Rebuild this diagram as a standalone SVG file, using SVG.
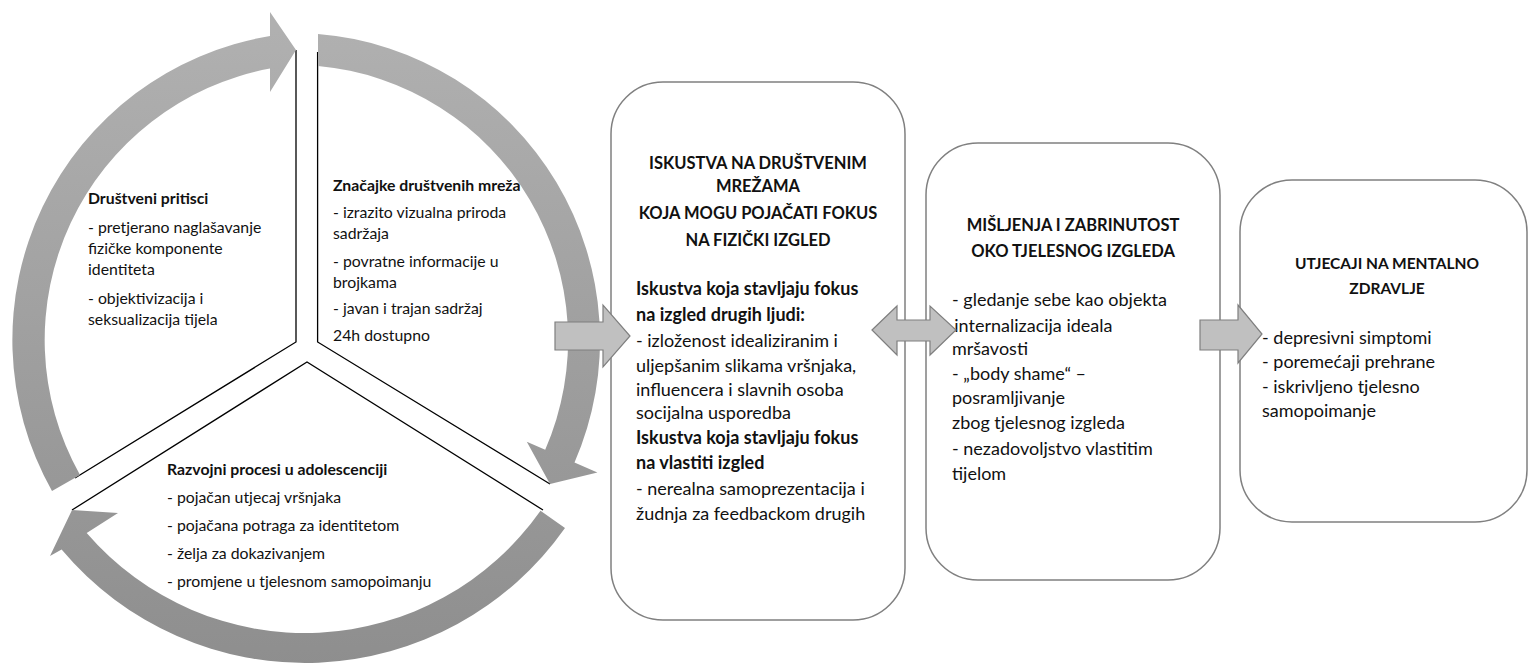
<svg xmlns="http://www.w3.org/2000/svg" width="1528" height="667" viewBox="0 0 1528 667">
<style>
.t{font-family:Lato,"Liberation Sans",sans-serif;fill:#111}
.c{font-size:15.8px}
.m{font-size:18px}
.h{font-size:16.5px}
.s{font-size:15.5px}
.b{font-weight:bold}
.mid{text-anchor:middle}
.box{fill:#fff;stroke:#808080;stroke-width:1.5}
.arc{fill:url(#g)}
.blk{fill:#c0c0c0;stroke:#7f7f7f;stroke-width:1.2;stroke-linejoin:miter}
.seg{fill:none;stroke:#000;stroke-width:1.3}
</style>
<defs>
<linearGradient id="g" gradientUnits="userSpaceOnUse" x1="0" y1="30" x2="0" y2="667">
<stop offset="0" stop-color="#b0b0b0"/>
<stop offset="1" stop-color="#8e8e8e"/>
</linearGradient>
</defs>
<rect width="1528" height="667" fill="#fff"/>

<g id="seg-left">
<path class="seg" d="M296,50 L296,342 L75,478"/>
<text class="t c b" x="88" y="204">Društveni pritisci</text>
<text class="t c" x="88" y="233">- pretjerano naglašavanje</text>
<text class="t c" x="88" y="254">fizičke komponente</text>
<text class="t c" x="88" y="275">identiteta</text>
<text class="t c" x="88" y="304">- objektivizacija i</text>
<text class="t c" x="88" y="325">seksualizacija tijela</text>
</g>

<g id="seg-right">
<path class="seg" d="M317.6,52 L317.6,342 L550,484"/>
<text class="t c b" x="333" y="191">Značajke društvenih mreža</text>
<text class="t c" x="333" y="218">- izrazito vizualna priroda</text>
<text class="t c" x="333" y="239">sadržaja</text>
<text class="t c" x="333" y="267">- povratne informacije u</text>
<text class="t c" x="333" y="288">brojkama</text>
<text class="t c" x="333" y="314">- javan i trajan sadržaj</text>
<text class="t c" x="333" y="341">24h dostupno</text>
</g>

<g id="seg-bottom">
<path class="seg" d="M72,510 L307,362 L543,510"/>
<text class="t c b" x="167" y="475">Razvojni procesi u adolescenciji</text>
<text class="t c" x="167" y="503">- pojačan utjecaj vršnjaka</text>
<text class="t c" x="167" y="531">- pojačana potraga za identitetom</text>
<text class="t c" x="167" y="559">- želja za dokazivanjem</text>
<text class="t c" x="167" y="587">- promjene u tjelesnom samopoimanju</text>
</g>

<g id="box1">
<rect class="box" x="611" y="82" width="294" height="538" rx="52" ry="52"/>
<text class="t h b mid" x="758" y="169">ISKUSTVA NA DRUŠTVENIM</text>
<text class="t h b mid" x="758" y="192">MREŽAMA</text>
<text class="t h b mid" x="758" y="219">KOJA MOGU POJAČATI FOKUS</text>
<text class="t h b mid" x="758" y="246">NA FIZIČKI IZGLED</text>
<text class="t m b" x="636" y="295">Iskustva koja stavljaju fokus</text>
<text class="t m b" x="636" y="321">na izgled drugih ljudi:</text>
<text class="t m" x="636" y="347">- izloženost idealiziranim i</text>
<text class="t m" x="636" y="372">uljepšanim slikama vršnjaka,</text>
<text class="t m" x="636" y="396">influencera i slavnih osoba</text>
<text class="t m" x="636" y="419">socijalna usporedba</text>
<text class="t m b" x="636" y="444">Iskustva koja stavljaju fokus</text>
<text class="t m b" x="636" y="469">na vlastiti izgled</text>
<text class="t m" x="636" y="495">- nerealna samoprezentacija i</text>
<text class="t m" x="636" y="520">žudnja za feedbackom drugih</text>
</g>

<g id="box2">
<rect class="box" x="926" y="143" width="294" height="437" rx="52" ry="52"/>
<text class="t h b mid" x="1073" y="231">MIŠLJENJA I ZABRINUTOST</text>
<text class="t h b mid" x="1073" y="257">OKO TJELESNOG IZGLEDA</text>
<text class="t m" x="952" y="306">- gledanje sebe kao objekta</text>
<text class="t m" x="943" y="332">- internalizacija ideala</text>
<text class="t m" x="952" y="355">mršavosti</text>
<text class="t m" x="952" y="380">- „body shame“ –</text>
<text class="t m" x="952" y="404">posramljivanje</text>
<text class="t m" x="952" y="429">zbog tjelesnog izgleda</text>
<text class="t m" x="952" y="455">- nezadovoljstvo vlastitim</text>
<text class="t m" x="952" y="480">tijelom</text>
</g>

<g id="box3">
<rect class="box" x="1240" y="180" width="287" height="342" rx="52" ry="52"/>
<text class="t s b mid" x="1387" y="269">UTJECAJI NA MENTALNO</text>
<text class="t s b mid" x="1387" y="294">ZDRAVLJE</text>
<text class="t m" x="1262" y="344">- depresivni simptomi</text>
<text class="t m" x="1262" y="368">- poremećaji prehrane</text>
<text class="t m" x="1262" y="393">- iskrivljeno tjelesno</text>
<text class="t m" x="1262" y="417">samopoimanje</text>
</g>

<g id="connectors">
<path class="arc" d="M52,491 A308,308 0 0 1 270,36 L270,12 L296,50 L270,92 L270,68.6 A276,276 0 0 0 80,475 Z"/>
<path class="arc" d="M318,34 A307,307 0 0 1 574.5,462.5 L597.4,472.5 L550,484 L526.8,441.7 L545.2,449.7 A275,275 0 0 0 318,66 Z"/>
<path class="arc" d="M565,528 A318,318 0 0 1 61.6,549.6 L50,556 L72,510 L118,513 L86.7,532.9 A288,288 0 0 0 540.5,510.7 Z"/>
<path class="blk" d="M555,322 L603,322 L603,305 L630,336 L603,367 L603,350 L555,350 Z"/>
<path class="blk" d="M872,330 L897,306 L897,320 L930,320 L930,306 L956,330 L930,355 L930,341 L897,341 L897,355 Z"/>
<path class="blk" d="M1200,320 L1238,320 L1238,305 L1262,334 L1238,363 L1238,350 L1200,350 Z"/>
</g>
</svg>
